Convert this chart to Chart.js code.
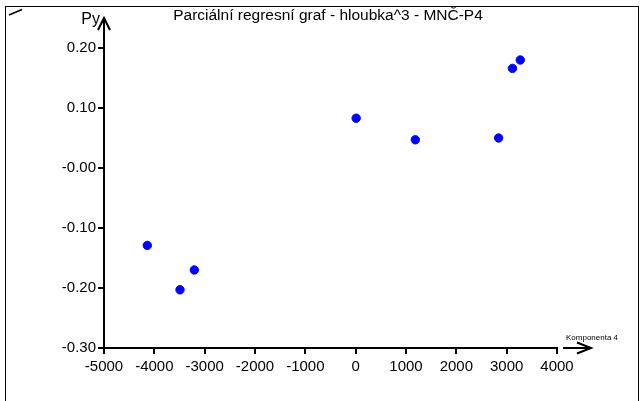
<!DOCTYPE html>
<html>
<head>
<meta charset="utf-8">
<script src="https://cdn.jsdelivr.net/npm/chart.js@4.4.1/dist/chart.umd.min.js"></script>
<style>
  html, body { margin: 0; padding: 0; background: #fff; }
  #wrap { width: 643px; height: 401px; }
</style>
</head>
<body>
<div id="wrap"><canvas id="c" width="643" height="401"></canvas></div>
<script>
// Partial regression plot: component 4 scores vs. partial residuals
const chartTitle = 'Parciální regresní graf - hloubka^3 - MNČ-P4';
const xTitle = 'Komponenta 4';
const yTitle = 'Py';

const xValues = [-4140, -3490, -3205, 10, 1185, 2840, 3115, 3270];
const yValues = [-0.129, -0.203, -0.170, 0.083, 0.047, 0.050, 0.166, 0.180];

const xTickValues = [-5000, -4000, -3000, -2000, -1000, 0, 1000, 2000, 3000, 4000];
const yTickValues = [-0.30, -0.20, -0.10, 0.00, 0.10, 0.20];
const yTickLabels = ['-0.30', '-0.20', '-0.10', '-0.00', '0.10', '0.20'];

const FONT = 'Liberation Sans, Arial, sans-serif';

// frame, title, axis arrows and axis captions
const decorations = {
  id: 'decorations',
  afterDraw(chart) {
    const ctx = chart.ctx;
    const a = chart.chartArea;
    ctx.save();
    ctx.strokeStyle = '#000';
    ctx.fillStyle = '#000';

    // outer frame
    ctx.lineWidth = 1;
    ctx.strokeRect(5.5, 6.5, 633, 400);

    // small corner mark
    ctx.lineWidth = 1.5;
    ctx.beginPath();
    ctx.moveTo(9, 15);
    ctx.lineTo(22, 9.5);
    ctx.stroke();

    // y axis extension with arrow head
    const ax = Math.round(a.left);
    ctx.lineWidth = 2;
    ctx.beginPath();
    ctx.moveTo(ax, a.top);
    ctx.lineTo(ax, 19);
    ctx.stroke();
    ctx.beginPath();
    ctx.moveTo(ax - 6, 30);
    ctx.lineTo(ax, 18);
    ctx.lineTo(ax + 6, 30);
    ctx.stroke();

    // x axis arrow
    const ay = Math.round(a.bottom);
    ctx.beginPath();
    ctx.moveTo(563, ay);
    ctx.lineTo(590, ay);
    ctx.stroke();
    ctx.beginPath();
    ctx.moveTo(577, ay - 5.5);
    ctx.lineTo(591, ay);
    ctx.lineTo(577, ay + 5.5);
    ctx.stroke();

    // texts
    ctx.textBaseline = 'middle';
    ctx.textAlign = 'center';
    ctx.font = '15.5px ' + FONT;
    ctx.fillText(chartTitle, 328, 16);

    ctx.textAlign = 'right';
    ctx.font = '16px ' + FONT;
    ctx.fillText(yTitle, 100, 20);

    ctx.textAlign = 'left';
    ctx.font = '8px ' + FONT;
    ctx.fillText(xTitle, 566, 338);
    ctx.restore();
  }
};

new Chart(document.getElementById('c'), {
  type: 'scatter',
  data: {
    datasets: [{
      data: xValues.map((x, i) => ({ x: x, y: yValues[i] })),
      backgroundColor: '#0000ff',
      borderColor: '#0000ff',
      pointRadius: 4.2,
      pointHoverRadius: 4.2
    }]
  },
  options: {
    responsive: false,
    animation: false,
    events: [],
    layout: { padding: { left: 0, top: 48, right: 86, bottom: 21 } },
    plugins: { legend: { display: false }, tooltip: { enabled: false } },
    scales: {
      x: {
        type: 'linear',
        min: -5000, max: 4000,
        afterBuildTicks: s => { s.ticks = xTickValues.map(v => ({ value: v })); },
        afterFit: s => { s.height = 32; },
        grid: { display: true, drawOnChartArea: false, drawTicks: true, tickLength: 6, color: '#000', lineWidth: 2 },
        border: { display: true, color: '#000', width: 2 },
        ticks: { color: '#000', font: { family: FONT, size: 15 }, padding: 4, maxRotation: 0, autoSkip: false,
                 callback: v => String(v) }
      },
      y: {
        type: 'linear',
        min: -0.3, max: 0.2,
        afterBuildTicks: s => { s.ticks = yTickValues.map(v => ({ value: v })); },
        afterFit: s => { s.width = 104; },
        grid: { display: true, drawOnChartArea: false, drawTicks: true, tickLength: 6, color: '#000', lineWidth: 2 },
        border: { display: true, color: '#000', width: 2 },
        ticks: { color: '#000', font: { family: FONT, size: 15 }, padding: 2, autoSkip: false,
                 callback: (v) => {
                   const i = yTickValues.findIndex(t => Math.abs(t - v) < 1e-9);
                   return i >= 0 ? yTickLabels[i] : '';
                 } }
      }
    }
  },
  plugins: [decorations]
});
</script>
</body>
</html>
